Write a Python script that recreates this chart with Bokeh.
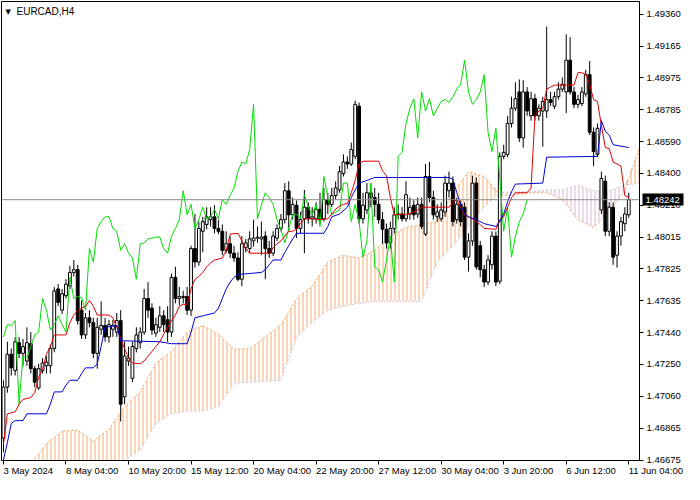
import numpy as np
from bokeh.plotting import figure
from bokeh.models import Range1d, FixedTicker, PrintfTickFormatter, Label, Span, LinearAxis
from bokeh.embed import file_html
from bokeh.resources import INLINE

# ---------------- data ----------------
symbol = "EURCAD,H4"
first_bar = 3          # bar index of the first visible candle
last_price = 1.48242

open_ = [1.46808, 1.47114, 1.47312, 1.47213, 1.47381, 1.47317, 1.47271, 1.47375, 1.47225, 1.47109,
         1.47213, 1.47242, 1.47242, 1.47346, 1.47705, 1.47577, 1.47664, 1.47722, 1.47804, 1.47821,
         1.47577, 1.47428, 1.47531, 1.47502, 1.47317, 1.47462, 1.47485, 1.47416, 1.47462, 1.47445,
         1.47514, 1.47056, 1.47271, 1.47167, 1.47346, 1.47381, 1.47445, 1.47647, 1.47589, 1.47439,
         1.47474, 1.47543, 1.47519, 1.47445, 1.47775, 1.47647, 1.47659, 1.47659, 1.47577, 1.47948,
         1.47867, 1.48052, 1.48093, 1.48122, 1.48139, 1.48069, 1.48052, 1.47937, 1.47977, 1.47920,
         1.47891, 1.47763, 1.47953, 1.47948, 1.47994, 1.48011, 1.48006, 1.48023, 1.47948, 1.47920,
         1.48011, 1.48069, 1.48122, 1.48296, 1.48151, 1.48209, 1.48069, 1.48127, 1.48197, 1.48127,
         1.48127, 1.48185, 1.48127, 1.48243, 1.48214, 1.48267, 1.48301, 1.48399, 1.48469, 1.48457,
         1.48503, 1.48805, 1.48127, 1.48180, 1.48284, 1.48255, 1.48214, 1.48122, 1.48064, 1.47982,
         1.48069, 1.48151, 1.48156, 1.48127, 1.48156, 1.48209, 1.48156, 1.48214, 1.48035, 1.48382,
         1.48255, 1.48139, 1.48127, 1.48168, 1.48296, 1.48342, 1.48122, 1.48214, 1.48197, 1.47896,
         1.47994, 1.48342, 1.47965, 1.47821, 1.47746, 1.47850, 1.48023, 1.47751, 1.48503, 1.48515,
         1.48701, 1.48793, 1.48891, 1.48614, 1.48891, 1.48747, 1.48850, 1.48747, 1.48776, 1.48776,
         1.48845, 1.48805, 1.48862, 1.48908, 1.48891, 1.49082, 1.48891, 1.48816, 1.48821, 1.48879,
         1.48995, 1.48648, 1.48515, 1.48180, 1.48353, 1.48052, 1.48197, 1.47908, 1.48023, 1.48098,
         1.48151]

high = [1.47155, 1.47387, 1.47346, 1.47416, 1.47416, 1.47404, 1.47474, 1.47445, 1.47242, 1.47254,
        1.47288, 1.47300, 1.47370, 1.47717, 1.47734, 1.47705, 1.47763, 1.47844, 1.47879, 1.47850,
        1.47635, 1.47560, 1.47577, 1.47531, 1.47531, 1.47630, 1.47531, 1.47519, 1.47519, 1.47560,
        1.47577, 1.47387, 1.47358, 1.47387, 1.47474, 1.47474, 1.47705, 1.47746, 1.47618, 1.47531,
        1.47601, 1.47577, 1.47601, 1.47798, 1.47838, 1.47717, 1.47693, 1.47717, 1.47965, 1.48156,
        1.48110, 1.48139, 1.48197, 1.48197, 1.48209, 1.48122, 1.48093, 1.48052, 1.48023, 1.47965,
        1.47925, 1.48023, 1.48006, 1.48052, 1.48122, 1.48081, 1.48110, 1.48052, 1.47994, 1.48052,
        1.48093, 1.48156, 1.48342, 1.48353, 1.48255, 1.48238, 1.48168, 1.48301, 1.48226, 1.48197,
        1.48226, 1.48284, 1.48313, 1.48284, 1.48313, 1.48353, 1.48445, 1.48515, 1.48503, 1.48585,
        1.48839, 1.48827, 1.48284, 1.48342, 1.48342, 1.48313, 1.48284, 1.48168, 1.48098, 1.48110,
        1.48197, 1.48214, 1.48197, 1.48353, 1.48255, 1.48238, 1.48255, 1.48255, 1.48457, 1.48469,
        1.48296, 1.48214, 1.48226, 1.48387, 1.48411, 1.48382, 1.48255, 1.48238, 1.48226, 1.48040,
        1.48387, 1.48376, 1.47994, 1.47850, 1.47908, 1.48052, 1.48052, 1.48527, 1.48573, 1.48747,
        1.48862, 1.48949, 1.48966, 1.48961, 1.48920, 1.48891, 1.48879, 1.48816, 1.48862, 1.49284,
        1.48891, 1.48891, 1.48949, 1.48978, 1.49238, 1.49221, 1.48920, 1.48874, 1.48920, 1.49024,
        1.49077, 1.48677, 1.48701, 1.48411, 1.48387, 1.48226, 1.48226, 1.48052, 1.48139, 1.48197,
        1.48284]

low = [1.46721, 1.47080, 1.47184, 1.47184, 1.47288, 1.47242, 1.47242, 1.47196, 1.47114, 1.47097,
       1.47196, 1.47196, 1.47196, 1.47323, 1.47601, 1.47554, 1.47647, 1.47705, 1.47780, 1.47490,
       1.47404, 1.47404, 1.47474, 1.47288, 1.47225, 1.47428, 1.47387, 1.47381, 1.47416, 1.47416,
       1.46907, 1.47011, 1.47242, 1.47143, 1.47323, 1.47346, 1.47428, 1.47531, 1.47428, 1.47416,
       1.47445, 1.47445, 1.47387, 1.47416, 1.47618, 1.47606, 1.47618, 1.47548, 1.47543, 1.47833,
       1.47844, 1.47925, 1.48064, 1.48081, 1.48040, 1.48035, 1.47908, 1.47920, 1.47891, 1.47867,
       1.47751, 1.47722, 1.47925, 1.47920, 1.47959, 1.47982, 1.47908, 1.47763, 1.47891, 1.47902,
       1.47994, 1.48052, 1.48098, 1.48052, 1.48122, 1.48011, 1.48040, 1.47920, 1.48098, 1.48081,
       1.48098, 1.48098, 1.48110, 1.48156, 1.48197, 1.48243, 1.48284, 1.48382, 1.48428, 1.48445,
       1.48486, 1.48098, 1.48098, 1.48156, 1.48197, 1.48139, 1.48098, 1.47977, 1.47948, 1.47948,
       1.48040, 1.48122, 1.48110, 1.48110, 1.48122, 1.48122, 1.48133, 1.48064, 1.48023, 1.48226,
       1.48122, 1.48110, 1.48110, 1.48139, 1.48255, 1.48081, 1.48098, 1.48081, 1.47879, 1.47809,
       1.47965, 1.47821, 1.47775, 1.47717, 1.47728, 1.47821, 1.47722, 1.47734, 1.48486, 1.48498,
       1.48677, 1.48776, 1.48590, 1.48556, 1.48747, 1.48718, 1.48718, 1.48718, 1.48561, 1.48735,
       1.48805, 1.48788, 1.48845, 1.48891, 1.48764, 1.48874, 1.48793, 1.48793, 1.48805, 1.48862,
       1.48631, 1.48445, 1.48498, 1.48156, 1.48023, 1.48023, 1.47850, 1.47833, 1.47965, 1.48052,
       1.48133]

close = [1.47114, 1.47312, 1.47230, 1.47387, 1.47317, 1.47358, 1.47381, 1.47225, 1.47143, 1.47225,
         1.47259, 1.47265, 1.47346, 1.47693, 1.47624, 1.47676, 1.47734, 1.47804, 1.47821, 1.47514,
         1.47428, 1.47531, 1.47502, 1.47317, 1.47474, 1.47485, 1.47416, 1.47490, 1.47485, 1.47514,
         1.47011, 1.47300, 1.47288, 1.47358, 1.47428, 1.47445, 1.47647, 1.47577, 1.47457, 1.47490,
         1.47543, 1.47490, 1.47445, 1.47775, 1.47647, 1.47659, 1.47653, 1.47577, 1.47948, 1.47867,
         1.48069, 1.48110, 1.48139, 1.48139, 1.48069, 1.48052, 1.47937, 1.47977, 1.47920, 1.47891,
         1.47763, 1.47977, 1.47982, 1.48006, 1.48011, 1.48017, 1.48017, 1.47948, 1.47920, 1.48023,
         1.48069, 1.48122, 1.48296, 1.48151, 1.48214, 1.48069, 1.48122, 1.48197, 1.48127, 1.48139,
         1.48185, 1.48127, 1.48243, 1.48214, 1.48267, 1.48313, 1.48411, 1.48469, 1.48457, 1.48544,
         1.48816, 1.48127, 1.48209, 1.48284, 1.48255, 1.48214, 1.48122, 1.48064, 1.47982, 1.48069,
         1.48151, 1.48156, 1.48127, 1.48272, 1.48197, 1.48151, 1.48214, 1.48081, 1.48382, 1.48255,
         1.48151, 1.48168, 1.48180, 1.48342, 1.48342, 1.48110, 1.48214, 1.48110, 1.47896, 1.47994,
         1.48342, 1.47838, 1.47821, 1.47746, 1.47879, 1.48023, 1.47746, 1.48503, 1.48527, 1.48701,
         1.48793, 1.48850, 1.48614, 1.48891, 1.48776, 1.48850, 1.48747, 1.48793, 1.48833, 1.48845,
         1.48827, 1.48862, 1.48908, 1.48937, 1.49082, 1.48891, 1.48816, 1.48845, 1.48891, 1.48995,
         1.48648, 1.48532, 1.48672, 1.48370, 1.48052, 1.48197, 1.47896, 1.48023, 1.48110, 1.48156,
         1.48242]

# Tenkan-sen (red) read at its turning points
tenkan_bar = [3, 4, 6, 7, 8, 10, 11, 12, 13, 14,
              15, 16, 19, 20, 21, 22, 24, 25, 26, 27,
              30, 31, 32, 33, 34, 35, 36, 38, 39, 40,
              41, 42, 43, 44, 45, 46, 47, 48, 49, 50,
              51, 52, 53, 54, 55, 56, 57, 59, 60, 61,
              63, 64, 65, 66, 71, 72, 73, 74, 75, 76,
              77, 78, 79, 80, 82, 84, 86, 87, 88, 89,
              90, 91, 92, 93, 94, 95, 99, 100, 101, 102,
              103, 105, 106, 108, 109, 110, 117, 118, 119, 120,
              121, 122, 123, 124, 125, 126, 129, 130, 131, 132,
              133, 134, 137, 138, 139, 140, 141, 142, 143, 144,
              149, 150, 151, 152, 153, 154, 155, 156, 157, 158,
              159, 161, 162, 163]
tenkan = [1.46767, 1.46953, 1.46965, 1.47011, 1.47039, 1.47051, 1.47080, 1.47172, 1.47225, 1.47312,
          1.47358, 1.47428, 1.47428, 1.47502, 1.47548, 1.47577, 1.47601, 1.47635, 1.47601, 1.47548,
          1.47548, 1.47531, 1.47474, 1.47404, 1.47346, 1.47288, 1.47259, 1.47254, 1.47271, 1.47300,
          1.47329, 1.47358, 1.47387, 1.47433, 1.47474, 1.47514, 1.47548, 1.47601, 1.47612, 1.47612,
          1.47705, 1.47763, 1.47780, 1.47804, 1.47838, 1.47862, 1.47879, 1.47891, 1.47937, 1.48035,
          1.48040, 1.47994, 1.47948, 1.47920, 1.47920, 1.47953, 1.47977, 1.47994, 1.48023, 1.48052,
          1.48052, 1.48064, 1.48098, 1.48127, 1.48127, 1.48122, 1.48127, 1.48156, 1.48185, 1.48203,
          1.48214, 1.48220, 1.48284, 1.48358, 1.48457, 1.48474, 1.48474, 1.48416, 1.48387, 1.48255,
          1.48151, 1.48156, 1.48151, 1.48168, 1.48180, 1.48197, 1.48197, 1.48226, 1.48243, 1.48197,
          1.48151, 1.48139, 1.48127, 1.48110, 1.48093, 1.48069, 1.48064, 1.48122, 1.48139, 1.48197,
          1.48255, 1.48284, 1.48284, 1.48313, 1.48747, 1.48776, 1.48793, 1.48908, 1.48920, 1.48932,
          1.48932, 1.49007, 1.49007, 1.48995, 1.48937, 1.48845, 1.48833, 1.48689, 1.48556, 1.48550,
          1.48469, 1.48445, 1.48267, 1.48255]

# Kijun-sen (blue) read at its turning points
kijun_bar = [3, 4, 5, 6, 8, 9, 14, 15, 16, 18,
             19, 20, 22, 23, 24, 26, 27, 28, 29, 32,
             33, 43, 46, 50, 51, 52, 54, 57, 58, 59,
             60, 61, 62, 63, 69, 70, 71, 72, 74, 75,
             76, 77, 78, 85, 86, 87, 89, 91, 92, 93,
             94, 96, 98, 117, 118, 119, 120, 121, 122, 124,
             126, 129, 130, 131, 132, 133, 134, 141, 142, 155,
             156, 157, 158, 159, 163]
kijun = [1.46675, 1.46779, 1.46895, 1.46912, 1.46912, 1.46953, 1.46953, 1.47011, 1.47085, 1.47085,
         1.47126, 1.47155, 1.47155, 1.47196, 1.47230, 1.47230, 1.47254, 1.47358, 1.47474, 1.47485,
         1.47393, 1.47387, 1.47375, 1.47375, 1.47445, 1.47531, 1.47543, 1.47560, 1.47589, 1.47647,
         1.47705, 1.47746, 1.47775, 1.47792, 1.47804, 1.47821, 1.47850, 1.47879, 1.47879, 1.47925,
         1.47965, 1.48006, 1.48040, 1.48040, 1.48081, 1.48139, 1.48156, 1.48197, 1.48255, 1.48301,
         1.48342, 1.48358, 1.48376, 1.48376, 1.48365, 1.48284, 1.48209, 1.48156, 1.48139, 1.48122,
         1.48098, 1.48081, 1.48110, 1.48156, 1.48231, 1.48290, 1.48336, 1.48342, 1.48498, 1.48503,
         1.48718, 1.48654, 1.48631, 1.48573, 1.48556]

# Senkou spans (cloud), read every 4 bars (already displaced 26 bars ahead)
span_bar = [2, 6, 10, 14, 18, 22, 26, 30, 34, 38,
            42, 46, 50, 54, 58, 62, 66, 70, 74, 78,
            82, 86, 90, 94, 98, 102, 106, 110, 114, 118,
            122, 126, 130, 134, 138, 142, 146, 150, 154, 158,
            162, 166]
span_a = [1.46606, 1.46606, 1.46651, 1.46773, 1.46849, 1.46854, 1.46791, 1.46860, 1.46999, 1.47085,
          1.47259, 1.47329, 1.47445, 1.47485, 1.47433, 1.47341, 1.47346, 1.47416, 1.47490, 1.47647,
          1.47722, 1.47867, 1.47908, 1.47891, 1.47937, 1.48023, 1.48075, 1.48093, 1.48110, 1.48284,
          1.48411, 1.48382, 1.48267, 1.48272, 1.48284, 1.48284, 1.48243, 1.48122, 1.48075, 1.48168,
          1.48296, 1.48573]
span_b = [1.46548, 1.46548, 1.46548, 1.46548, 1.46548, 1.46548, 1.46548, 1.46577, 1.46675, 1.46733,
          1.46895, 1.46953, 1.46970, 1.46970, 1.46994, 1.47138, 1.47143, 1.47149, 1.47155, 1.47416,
          1.47502, 1.47577, 1.47601, 1.47618, 1.47630, 1.47630, 1.47630, 1.47630, 1.47867, 1.47965,
          1.48081, 1.48197, 1.48284, 1.48290, 1.48290, 1.48301, 1.48301, 1.48330, 1.48296, 1.48296,
          1.48330, 1.48342]

chikou_shift = 26

# axis ticks
price_ticks = [1.46675, 1.46865, 1.47060, 1.47250, 1.47440, 1.47635, 1.47825, 1.48015,
               1.48210, 1.48400, 1.48590, 1.48785, 1.48975, 1.49165, 1.49360]
time_tick_bars = [3, 19, 35, 51, 67, 83, 99, 115, 131, 147, 163]
time_tick_labels = ["3 May 2024", "8 May 04:00", "10 May 20:00", "15 May 12:00", "20 May 04:00",
                    "22 May 20:00", "27 May 12:00", "30 May 04:00", "3 Jun 20:00", "6 Jun 12:00",
                    "11 Jun 04:00"]

# ---------------- drawing ----------------
FONT = "Liberation Sans"
FSIZE = "9.5px"
o = np.array(open_)
h = np.array(high)
l = np.array(low)
c = np.array(close)
bars = np.arange(first_bar, first_bar + len(c))
bull = c >= o

y0, y1 = 1.46672, 1.494353
x0, x1 = 2.5, 165.75

p = figure(width=684, height=484, x_range=Range1d(x0, x1), y_range=Range1d(y0, y1),
           y_axis_location="right", output_backend="svg", toolbar_location=None,
           min_border_left=1, min_border_top=1, min_border_right=45, min_border_bottom=22,
           background_fill_color="white", border_fill_color="white")
p.grid.visible = False
p.outline_line_color = "black"
p.outline_line_width = 1

# cloud
sa = np.array(span_a)
sb = np.array(span_b)
top = np.maximum(sa, sb)
p.varea(x=span_bar, y1=sb, y2=top, fill_color=None, fill_alpha=0,
        hatch_pattern="vertical_line", hatch_color="#f0a060", hatch_scale=4,
        hatch_weight=1, hatch_alpha=0.85)
p.varea(x=span_bar, y1=sa, y2=top, fill_color=None, fill_alpha=0,
        hatch_pattern="vertical_line", hatch_color="#d0b0d0", hatch_scale=4,
        hatch_weight=1, hatch_alpha=0.9)
p.line(span_bar, sa, line_color="#f4a460", line_dash="2 2", line_width=1)
p.line(span_bar, sb, line_color="#d8bfd8", line_dash="2 2", line_width=1)

# last price line
p.add_layout(Span(location=last_price, dimension="width", line_color="#8a8a8a", line_width=1))

# candles
p.segment(x0=bars, y0=l, x1=bars, y1=h, line_color="black", line_width=1)
p.vbar(x=bars[bull], width=0.72, top=c[bull], bottom=o[bull],
       fill_color="white", line_color="black", line_width=1)
p.vbar(x=bars[~bull], width=0.72, top=o[~bull], bottom=c[~bull],
       fill_color="black", line_color="black", line_width=1)

# ichimoku lines
p.line(bars[:-chikou_shift], c[chikou_shift:], line_color="#00dd00", line_width=1)
p.line(tenkan_bar, tenkan, line_color="#e00000", line_width=1)
p.line(kijun_bar, kijun, line_color="#0000d0", line_width=1)

# right price axis
ya = p.yaxis[0]
ya.ticker = FixedTicker(ticks=price_ticks)
ya.formatter = PrintfTickFormatter(format="%.5f")
ya.major_tick_in = 0
ya.major_tick_out = 4
ya.minor_tick_in = 0
ya.minor_tick_out = 0
ya.major_label_standoff = 3
ya.axis_line_color = "black"
ya.major_tick_line_color = "black"
ya.major_label_text_font = FONT
ya.major_label_text_font_size = FSIZE
ya.major_label_text_color = "black"

# current-price tag: an outer axis whose single tick is drawn inward as a black box
tag = LinearAxis(ticker=FixedTicker(ticks=[last_price]),
                 formatter=PrintfTickFormatter(format="%.5f"),
                 axis_line_color=None,
                 major_tick_in=41, major_tick_out=0,
                 major_tick_line_color="black", major_tick_line_width=12,
                 minor_tick_in=0, minor_tick_out=0,
                 major_label_standoff=-38,
                 major_label_text_color="white", major_label_text_font=FONT,
                 major_label_text_font_size=FSIZE)
p.add_layout(tag, "right")

# bottom time axis; a tiny negative orientation makes the labels start at their tick
xa = p.xaxis[0]
xa.ticker = FixedTicker(ticks=time_tick_bars)
xa.major_label_overrides = {t: s for t, s in zip(time_tick_bars, time_tick_labels)}
xa.major_label_orientation = -0.0001
xa.major_tick_in = 0
xa.major_tick_out = 4
xa.minor_tick_in = 0
xa.minor_tick_out = 0
xa.major_label_standoff = 6
xa.axis_line_color = "black"
xa.major_tick_line_color = "black"
xa.major_label_text_font = FONT
xa.major_label_text_font_size = FSIZE
xa.major_label_text_color = "black"

# symbol caption
p.add_layout(Label(x=x0, y=y1, text="\u25bc", x_offset=4, y_offset=-6,
                   text_align="left", text_baseline="top",
                   text_font="DejaVu Sans", text_font_size="7px", text_color="black"))
p.add_layout(Label(x=x0, y=y1, text=symbol, x_offset=15, y_offset=-4,
                   text_align="left", text_baseline="top",
                   text_font=FONT, text_font_size="10px", text_color="black"))

open("out.html", "w").write(file_html(p, INLINE))
